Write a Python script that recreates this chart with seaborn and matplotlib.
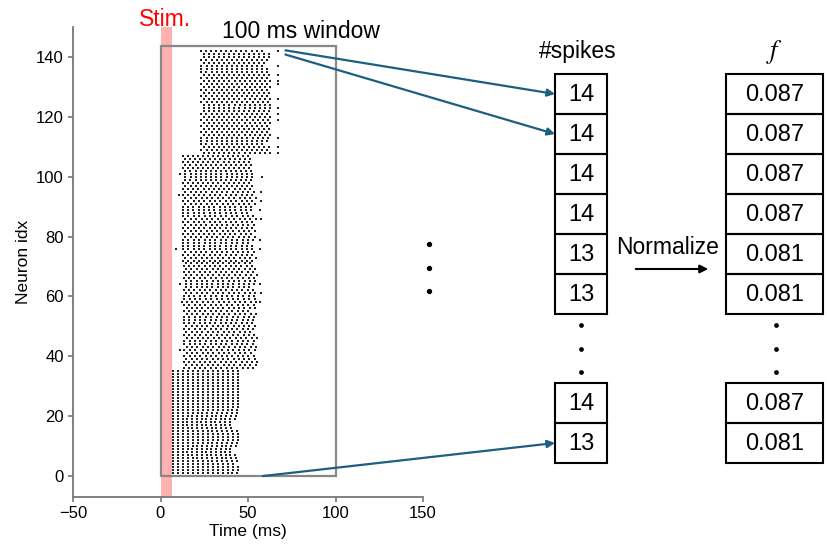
import matplotlib
matplotlib.use('Agg')
import matplotlib.pyplot as plt
import seaborn as sns
import pandas as pd
import numpy as np
from matplotlib.patches import Rectangle, ConnectionPatch

# ---- raster data (neuron 0 at the bottom) ----
# group 1: neurons 0-35, fast aligned firing right after the stimulus
g1_onset = [7.3, 7.3, 7.3, 7.3, 7.3, 7.3, 7.3, 7.3, 7.3, 7.3, 7.3, 7.3,
            7.3, 7.3, 7.3, 7.3, 7.3, 7.3, 7.3, 7.3, 7.3, 7.3, 7.3, 7.3,
            7.3, 7.3, 7.3, 7.3, 7.3, 7.3, 7.3, 7.3, 7.3, 7.3, 7.3, 7.3]
g1_isi = [2.80, 2.82, 2.84, 2.86, 2.84, 2.80, 2.76, 2.72, 2.70, 2.72, 2.76, 2.80,
          2.84, 2.86, 2.84, 2.80, 2.74, 2.70, 2.68, 2.70, 2.74, 2.78, 2.82, 2.85,
          2.86, 2.86, 2.85, 2.84, 2.86, 2.86, 2.85, 2.86, 2.86, 2.85, 2.86, 2.86]
g1_count = [13, 14, 14, 14, 13, 14, 14, 14, 13, 13, 14, 14,
            14, 14, 14, 14, 13, 13, 13, 14, 14, 14, 14, 14,
            14, 14, 14, 14, 14, 14, 14, 14, 14, 14, 14, 14]

# group 2: neurons 36-107
g2_onset = [13.4, 14.8, 13.4, 14.8, 13.6, 15.0, 13.6, 15.0, 13.6, 13.6, 15.0, 13.4,
            14.8, 13.4, 14.8, 13.4, 13.4, 13.4, 14.9, 13.5, 14.9, 13.5, 14.9, 13.5,
            13.2, 14.6, 13.2, 14.6, 14.6, 14.6, 13.2, 14.6, 13.2, 14.6, 13.2, 14.6,
            12.8, 14.2, 12.8, 14.2, 12.8, 12.8, 12.8, 12.8, 14.2, 12.8, 14.2, 12.8,
            14.2, 12.8, 14.2, 12.8, 12.8, 12.8, 12.8, 14.2, 12.8, 14.2, 12.8, 14.2,
            12.8, 14.2, 12.8, 14.2, 14.2, 14.2, 14.2, 12.8, 14.2, 12.8, 14.2, 12.6]
g2_isi = [3.05, 3.05, 3.00, 3.00, 3.05, 3.05, 3.10, 3.05, 3.00, 3.05, 3.10, 3.10,
          3.05, 3.05, 3.00, 3.00, 3.05, 3.10, 3.05, 3.05, 3.00, 3.05, 3.05, 3.10,
          3.10, 3.05, 3.05, 3.00, 3.00, 3.05, 3.10, 3.10, 3.05, 3.05, 3.00, 3.05,
          3.05, 3.10, 3.05, 3.00, 3.05, 3.05, 3.10, 3.10, 3.05, 3.00, 3.05, 3.05,
          3.00, 3.05, 3.10, 3.10, 3.05, 3.00, 3.00, 3.05, 3.05, 3.10, 3.05, 3.00,
          2.95, 2.95, 2.90, 2.90, 2.95, 2.95, 2.90, 2.90, 2.90, 2.90, 2.86, 2.86]
g2_count = [14, 14, 14, 14, 14, 13, 14, 14, 14, 14, 14, 14,
            13, 14, 14, 14, 14, 14, 14, 13, 14, 14, 14, 14,
            14, 14, 14, 13, 14, 14, 14, 14, 14, 14, 14, 13,
            14, 14, 14, 14, 14, 14, 13, 14, 14, 14, 14, 14,
            14, 14, 14, 14, 13, 14, 14, 14, 14, 14, 14, 14,
            14, 14, 14, 14, 14, 14, 14, 14, 14, 14, 14, 14]

# group 3: neurons 108-142, latest onset
g3_onset = [24.8, 23.4, 24.8, 23.4, 23.4, 23.4, 24.8, 23.4, 24.8, 23.4, 24.8, 23.4,
            24.8, 23.4, 24.8, 24.8, 24.8, 23.4, 24.8, 23.4, 24.8, 23.4, 24.8, 23.4,
            24.8, 23.4, 24.8, 23.4, 23.4, 23.4, 24.8, 23.4, 24.8, 24.8, 23.4]
g3_isi = [2.90, 2.90, 2.88, 2.88, 2.90, 2.92, 2.90, 2.88, 2.88, 2.90, 2.90, 2.92,
          2.90, 2.88, 2.88, 2.90, 2.92, 2.92, 2.90, 2.88, 2.86, 2.88, 2.90, 2.90,
          2.92, 2.90, 2.88, 2.88, 2.90, 2.90, 2.88, 2.88, 2.86, 2.86, 2.86]
g3_count = [14, 14, 14, 13, 14, 14, 14, 14, 14, 14, 14, 14,
            14, 14, 14, 14, 14, 14, 14, 14, 14, 14, 14, 14,
            14, 14, 14, 14, 14, 13, 13, 14, 14, 14, 13]

# isolated spikes outside the regular trains
stray_neuron = [142, 137, 134, 132, 131, 126, 123, 121, 119, 113, 110, 108,
                101, 94, 76, 64, 58, 42,
                100, 95, 92, 89, 86, 79, 76, 64, 61, 58, 38]
stray_time = [67.3, 67.0, 67.0, 67.2, 67.0, 67.3, 67.0, 67.2, 67.0, 67.0, 67.2, 67.0,
              11.4, 10.4, 8.6, 11.0, 12.0, 11.0,
              58.0, 57.2, 57.2, 57.0, 57.2, 57.0, 56.8, 57.0, 57.2, 57.0, 55.4]

# values shown in the boxes (top of the stack first)
count_top = [14, 14, 14, 14, 13, 13]
f_top = ['0.087', '0.087', '0.087', '0.087', '0.081', '0.081']
count_bottom = [14, 13]
f_bottom = ['0.087', '0.081']

xticks = [-50, 0, 50, 100, 150]
yticks = [0, 20, 40, 60, 80, 100, 120, 140]

# ---- build the spike table ----
onset = g1_onset + g2_onset + g3_onset
isi = g1_isi + g2_isi + g3_isi
count = g1_count + g2_count + g3_count
rows = []
for i, (t0, dt, n) in enumerate(zip(onset, isi, count)):
    for k in range(n):
        rows.append((t0 + k * dt, i))
for i, t in zip(stray_neuron, stray_time):
    rows.append((t, i))
spikes = pd.DataFrame(rows, columns=['time', 'neuron'])

sns.set_theme(style='ticks', rc={'text.color': 'black', 'axes.labelcolor': 'black',
                                 'xtick.labelcolor': 'black', 'ytick.labelcolor': 'black'})
plt.rcParams['font.family'] = ['Liberation Sans', 'DejaVu Sans']
plt.rcParams['mathtext.fontset'] = 'stix'

W, H = 828, 544
fig = plt.figure(figsize=(W / 100, H / 100), dpi=100)
ax = fig.add_axes([73 / W, 47 / H, 350 / W, 470 / H])

ax.axvspan(0, 6.3, color='#ffb0b0', lw=0, zorder=0)
sns.scatterplot(data=spikes, x='time', y='neuron', ax=ax, marker='s', s=1.3,
                color='#222222', linewidth=0, legend=False, zorder=2)
ax.add_patch(Rectangle((0, 0), 100, 143.5, fill=False, ec='#888888', lw=1.6, zorder=3))

ax.set_xlim(-50, 150)
ax.set_ylim(-7, 150)
ax.set_xticks(xticks)
ax.set_yticks(yticks)
ax.set_xlabel('Time (ms)', fontsize=12.5, labelpad=2)
ax.set_ylabel('Neuron idx', fontsize=12.5)
ax.tick_params(labelsize=12, length=3.5, width=1.2, color='#777777', pad=3)
sns.despine(ax=ax)
for s in ['left', 'bottom']:
    ax.spines[s].set_color('#777777')
    ax.spines[s].set_linewidth(1.3)

ax.text(2.5, 150.5, 'Stim.', color='red', fontsize=16.5, ha='center', va='baseline', clip_on=False)
ax.text(80, 146.2, '100 ms window', color='black', fontsize=16.5, ha='center', va='baseline', clip_on=False)

# ---- overlay in pixel coordinates for the boxes ----
ov = fig.add_axes([0, 0, 1, 1])
ov.set_xlim(0, W)
ov.set_ylim(H, 0)
ov.axis('off')

blue = '#1c5f80'
box_h = 40
sx0, sx1 = 555, 607
fx0, fx1 = 726, 823
tops = [74 + box_h * i for i in range(len(count_top))]
btops = [383 + box_h * i for i in range(len(count_bottom))]
for y0, c, f in zip(tops + btops, count_top + count_bottom, f_top + f_bottom):
    ov.add_patch(Rectangle((sx0, y0), sx1 - sx0, box_h, fill=False, ec='black', lw=1.5))
    ov.add_patch(Rectangle((fx0, y0), fx1 - fx0, box_h, fill=False, ec='black', lw=1.5))
    ov.text((sx0 + sx1) / 2, y0 + box_h / 2 + 1, str(c), fontsize=17, ha='center', va='center')
    ov.text((fx0 + fx1) / 2, y0 + box_h / 2 + 1, f, fontsize=17, ha='center', va='center')

ov.text(578, 58, '#spikes', fontsize=16.5, ha='center', va='baseline')
ov.text(775, 52, '$f$', fontsize=19, ha='center', va='center')

for yy in [325, 349, 372]:
    ov.plot([581, 776], [yy, yy], ls='none', marker='o', ms=2.4, color='black')
for yy in [244, 268, 291]:
    ov.plot(429, yy, marker='o', ms=2.8, color='black')

ov.text(668, 247, 'Normalize', fontsize=16.5, ha='center', va='center')
ov.annotate('', xy=(711, 269), xytext=(633, 269),
            arrowprops=dict(arrowstyle='-|>', color='black', lw=1.5, mutation_scale=12))

for (tx, ty), (bx, by) in [((71.4, 142.2), (555, 94)), ((71.4, 140.8), (555, 134)),
                           ((58.5, 0), (555, 443))]:
    con = ConnectionPatch(xyA=(tx, ty), coordsA=ax.transData, xyB=(bx, by), coordsB=ov.transData,
                          arrowstyle='-|>', color=blue, lw=1.6, mutation_scale=11)
    fig.add_artist(con)

fig.savefig('out.png', dpi=100)
